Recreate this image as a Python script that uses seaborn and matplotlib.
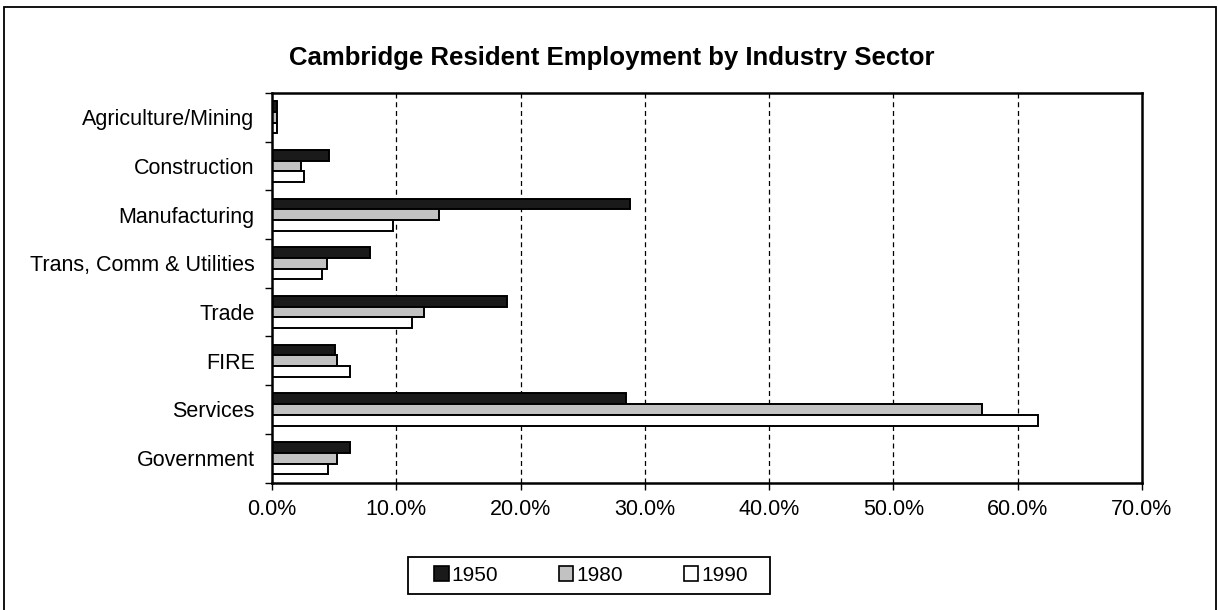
import matplotlib
matplotlib.use("Agg")
import matplotlib.pyplot as plt
import matplotlib.patches as mpatches
from matplotlib.ticker import FuncFormatter, MultipleLocator, FixedLocator
import seaborn as sns
import pandas as pd

sectors = ["Agriculture/Mining", "Construction", "Manufacturing", "Trans, Comm & Utilities",
           "Trade", "FIRE", "Services", "Government"]
years = ["1950", "1980", "1990"]
v1950 = [0.4, 4.6, 28.8, 7.9, 18.9, 5.1, 28.5, 6.3]
v1980 = [0.4, 2.3, 13.4, 4.4, 12.2, 5.2, 57.1, 5.2]
v1990 = [0.4, 2.6, 9.7, 4.0, 11.3, 6.3, 61.6, 4.5]

rows = []
for y, vals in zip(years, [v1950, v1980, v1990]):
    for s, v in zip(sectors, vals):
        rows.append({"sector": s, "year": y, "value": v})
df = pd.DataFrame(rows)

sns.set_theme(style="white")
plt.rcParams["font.family"] = ["Liberation Sans", "DejaVu Sans"]
plt.rcParams["text.color"] = "black"
plt.rcParams["xtick.color"] = "black"
plt.rcParams["ytick.color"] = "black"
plt.rcParams["axes.labelcolor"] = "black"

colors = {"1950": "#1a1a1a", "1980": "#c2c2c2", "1990": "#ffffff"}

fig = plt.figure(figsize=(12.18, 6.10), dpi=100)
ax = fig.add_axes([272/1218, 1-482.5/610, (1142-272)/1218, (482.5-93)/610])

sns.barplot(data=df, y="sector", x="value", hue="year", order=sectors, hue_order=years,
            orient="h", width=0.66, palette=colors, edgecolor="black", linewidth=1.4,
            saturation=1, ax=ax, legend=False)

ax.set_xlim(0, 70)
ax.xaxis.set_major_locator(MultipleLocator(10))
ax.xaxis.set_major_formatter(FuncFormatter(lambda x, p: f"{x:.1f}%"))
ax.set_xlabel("")
ax.set_ylabel("")
for xv in range(10, 70, 10):
    ax.axvline(xv, color="black", linestyle=(0, (4, 3)), linewidth=0.9, zorder=0)

ax.tick_params(axis="x", which="major", direction="out", length=5, width=1, color="black",
               bottom=True, labelsize=15.5, pad=7, labelcolor="black")
ax.tick_params(axis="y", which="major", length=0, labelsize=15.5, pad=12.5, labelcolor="black")
ax.yaxis.set_minor_locator(FixedLocator([i - 0.5 for i in range(len(sectors) + 1)]))
ax.tick_params(axis="y", which="minor", direction="out", length=5, width=1, color="black", left=True)

for sp in ax.spines.values():
    sp.set_visible(True)
    sp.set_color("black")
    sp.set_linewidth(1.8)

fig.text(0.5025, 1 - 65/610, "Cambridge Resident Employment by Industry Sector",
         ha="center", va="baseline", fontsize=18.5, fontweight="bold", color="black")

handles = [mpatches.Patch(facecolor=colors[y], edgecolor="black", linewidth=1.2, label=y) for y in years]
leg = fig.legend(handles=handles, loc="center", bbox_to_anchor=(591/1218, 1 - 575.5/610),
                 ncol=3, frameon=False, fontsize=15, handlelength=0.7,
                 handleheight=0.7, handletextpad=0.15, columnspacing=2.9)

fig.patches.append(mpatches.Rectangle((408/1218, 1 - 594/610), 362/1218, 37/610,
                                      transform=fig.transFigure, fill=False,
                                      edgecolor="black", linewidth=1.3))

fig.patches.append(mpatches.Rectangle((4/1218, -10/610), 1212/1218, 613/610, transform=fig.transFigure,
                                      fill=False, edgecolor="black", linewidth=1.3))

fig.savefig("out.png", dpi=100)
